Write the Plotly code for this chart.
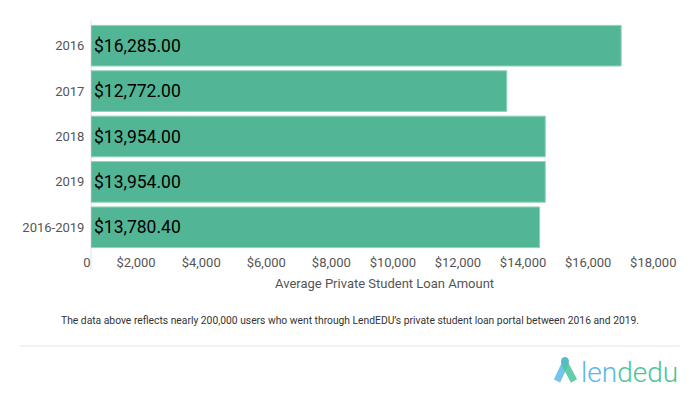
import plotly.graph_objects as go

categories = ["2016", "2017", "2018", "2019", "2016-2019"]
values = [16285.00, 12772.00, 13954.00, 13954.00, 13780.40]
labels = ["$16,285.00", "$12,772.00", "$13,954.00", "$13,954.00", "$13,780.40"]
tick_vals = [0, 2000, 4000, 6000, 8000, 10000, 12000, 14000, 16000, 18000]
tick_text = ["0", "$2,000", "$4,000", "$6,000", "$8,000", "$10,000", "$12,000",
             "$14,000", "$16,000", "$18,000"]

W, H = 700, 397
L, R, T, B = 91, 10, 23, 147
PW, PH = W - L - R, H - T - B


def px(x):
    return (x - L) / PW


def py(y):
    return (H - B - y) / PH


fig = go.Figure(go.Bar(
    x=values, y=categories, orientation="h",
    marker=dict(color="#52b596", line=dict(color="#8fd3b8", width=1)),
    text=labels, textposition="inside", insidetextanchor="start",
    textfont=dict(family="Roboto", size=17.5, color="#000000"),
    hoverinfo="skip",
))

fig.update_layout(
    width=W, height=H,
    margin=dict(l=L, r=R, t=T, b=B, pad=0, autoexpand=False),
    paper_bgcolor="white", plot_bgcolor="white",
    bargap=0.105,
    showlegend=False,
    font=dict(family="Roboto", color="#555555"),
)
fig.update_xaxes(
    range=[0, 18400], tickvals=tick_vals, ticktext=tick_text,
    showgrid=False, zeroline=False, showline=False, automargin=False,
    ticks="outside", ticklen=6, tickcolor="rgba(0,0,0,0)",
    ticklabelposition="outside left",
    tickfont=dict(family="Roboto", size=13, color="#555555"),
)
fig.update_yaxes(
    autorange="reversed", showgrid=False, zeroline=False, showline=False,
    automargin=False,
    ticks="outside", ticklen=3, tickcolor="rgba(0,0,0,0)",
    tickfont=dict(family="Roboto", size=13, color="#555555"),
)

shapes = [
    dict(type="line", xref="paper", yref="paper", x0=px(91), x1=px(91),
         y0=py(20), y1=py(270), line=dict(color="#e2e2e2", width=1), layer="below"),
    dict(type="line", xref="paper", yref="paper", x0=px(20), x1=px(680),
         y0=py(346), y1=py(346), line=dict(color="#ececec", width=1.5)),
    # logo icon
    dict(type="line", xref="paper", yref="paper", x0=px(565), x1=px(557),
         y0=py(364), y1=py(381), line=dict(color="rgba(90,184,232,0.85)", width=7)),
    dict(type="line", xref="paper", yref="paper", x0=px(565), x1=px(574),
         y0=py(364), y1=py(381), line=dict(color="rgba(76,196,154,0.85)", width=7)),
    dict(type="circle", xref="paper", yref="paper", x0=px(561), x1=px(569),
         y0=py(357), y1=py(366), fillcolor="#5ab8c8", line=dict(width=0)),
]

annotations = [
    dict(text="Average Private Student Loan Amount", xref="paper", yref="paper",
         x=px(384), y=py(283), showarrow=False, xanchor="center", yanchor="middle",
         font=dict(family="Roboto", size=13, color="#555555")),
    dict(text="The data above reflects nearly 200,000 users who went through LendEDU’s private student loan portal between 2016 and 2019.",
         xref="paper", yref="paper", x=px(350), y=py(320), showarrow=False,
         xanchor="center", yanchor="middle",
         font=dict(family="Roboto", size=10.3, color="#333333")),
    dict(text='<span style="color:#5ab8e8">len</span><span style="color:#4cc49a">dedu</span>',
         xref="paper", yref="paper", x=px(579), y=py(372), showarrow=False,
         xanchor="left", yanchor="middle",
         font=dict(family="Roboto", size=28, weight=300)),
]

fig.update_layout(shapes=shapes, annotations=annotations)
fig.write_html("out.html", config={"displayModeBar": False},
               post_script="document.body.style.margin='0';")
